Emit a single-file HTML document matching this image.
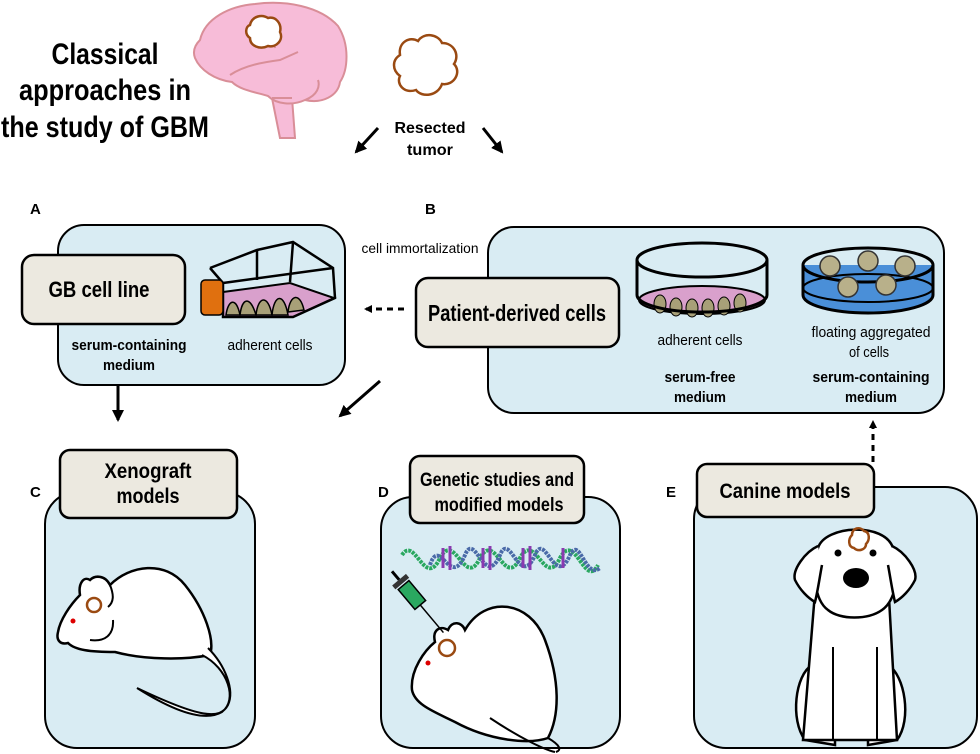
<!DOCTYPE html>
<html><head><meta charset="utf-8"><style>
html,body{margin:0;padding:0;background:#fff}
svg{display:block}
text{font-family:"Liberation Sans Narrow","Liberation Sans",Arial,sans-serif}
.b{font-weight:bold}
</style></head><body>
<svg width="980" height="754" viewBox="0 0 980 754" xmlns="http://www.w3.org/2000/svg">
<defs>
<marker id="ah" markerWidth="8" markerHeight="8" refX="6" refY="4" orient="auto" markerUnits="userSpaceOnUse">
<path d="M0,0 L8,4 L0,8 Z" fill="#000"/></marker>
<marker id="ah2" markerWidth="12" markerHeight="12" refX="10" refY="6" orient="auto" markerUnits="userSpaceOnUse">
<path d="M0,0 L12,6 L0,12 Z" fill="#000"/></marker>
</defs>

<!-- Title -->
<g font-size="30" fill="#000" text-anchor="middle">
<text x="105" y="64" class="b" textLength="107" lengthAdjust="spacingAndGlyphs">Classical</text>
<text x="105" y="100" class="b" textLength="172" lengthAdjust="spacingAndGlyphs">approaches in</text>
<text x="105" y="137" class="b" textLength="208" lengthAdjust="spacingAndGlyphs">the study of GBM</text>
</g>

<!-- Brain -->
<g stroke="#d98e98" stroke-width="2" fill="#f7bcd8">
<path d="M272,98 L280,138 L295,138 L292,98 Z"/>
<path d="M200,40 C205,18 230,6 255,4 C285,0 320,6 338,26 C350,45 348,70 340,82 C338,96 322,104 305,100 C292,106 276,104 268,96 C255,92 240,90 232,82 C215,80 200,70 195,58 C192,50 196,44 200,40 Z"/>
<path d="M230,75 C245,65 265,62 280,60 L298,52 M275,48 L272,28 M305,100 C318,95 320,86 318,80 M272,98 L292,98" fill="none"/>
</g>
<path d="M250,25 C252,16 262,14 268,18 C276,16 282,24 280,32 C284,40 276,48 268,46 C260,50 250,46 250,38 C244,34 246,26 250,25 Z" fill="#fff" stroke="#9a4a12" stroke-width="2.5"/>
<!-- resected tumor -->
<path d="M400,55 C398,42 410,36 418,41 C424,32 438,34 442,43 C454,43 460,55 454,64 C462,72 454,86 442,84 C438,96 422,98 416,90 C404,94 396,84 400,76 C392,70 392,60 400,55 Z" fill="#fff" stroke="#9a4a12" stroke-width="2.5"/>
<text x="430" y="133" font-size="16" class="b" text-anchor="middle" textLength="71" lengthAdjust="spacingAndGlyphs">Resected</text>
<text x="430" y="155" font-size="16" class="b" text-anchor="middle" textLength="46" lengthAdjust="spacingAndGlyphs">tumor</text>
<line x1="378" y1="128" x2="356" y2="152" stroke="#000" stroke-width="3" marker-end="url(#ah2)"/>
<line x1="483" y1="128" x2="502" y2="152" stroke="#000" stroke-width="3" marker-end="url(#ah2)"/>

<!-- A -->
<text x="30" y="214" font-size="15" class="b">A</text>
<rect x="58" y="225" width="287" height="160" rx="26" fill="#d9ecf3" stroke="#000" stroke-width="2"/>
<rect x="22" y="255" width="163" height="69" rx="12" fill="#ece9e0" stroke="#000" stroke-width="2.5"/>
<text x="99" y="297" font-size="22" class="b" text-anchor="middle" textLength="101" lengthAdjust="spacingAndGlyphs">GB cell line</text>
<text x="129" y="350" font-size="15" class="b" text-anchor="middle" textLength="115" lengthAdjust="spacingAndGlyphs">serum-containing</text>
<text x="129" y="370" font-size="15" class="b" text-anchor="middle" textLength="52" lengthAdjust="spacingAndGlyphs">medium</text>
<text x="270" y="350" font-size="15" text-anchor="middle" textLength="85" lengthAdjust="spacingAndGlyphs">adherent cells</text>
<!-- flask -->
<path d="M223,292 L290,283 L334,298 L293,317 L223,317 Z" fill="#d9a0cc" stroke="#000" stroke-width="2"/>
<g fill="#a8a078" stroke="#000" stroke-width="1.5">
<path d="M226,315 C228,300 236,296 240,315Z"/><path d="M240,315 C242,298 250,295 256,315Z"/><path d="M256,315 C258,296 268,294 272,315Z"/><path d="M272,315 C274,294 284,292 288,315Z"/><path d="M288,312 C290,294 300,292 304,310Z"/>
</g>
<g fill="none" stroke="#000" stroke-width="2.5">
<path d="M210,268 L257,250 L293,242 L333,268 L335,298 L293,317 L223,317 L223,283 L210,268"/>
<path d="M223,283 L333,268 M257,250 L257,280 M293,242 L290,282"/>
</g>
<rect x="201" y="280" width="22" height="35" rx="4" fill="#e0700f" stroke="#000" stroke-width="1.5"/>

<!-- dashed arrow -->
<line x1="404" y1="309" x2="366" y2="309" stroke="#000" stroke-width="3" stroke-dasharray="6,5" marker-end="url(#ah)"/>
<text x="420" y="253" font-size="14" text-anchor="middle" textLength="117" lengthAdjust="spacingAndGlyphs">cell immortalization</text>

<!-- B -->
<text x="425" y="214" font-size="15" class="b">B</text>
<rect x="488" y="227" width="456" height="186" rx="26" fill="#d9ecf3" stroke="#000" stroke-width="2"/>
<rect x="416" y="278" width="203" height="69" rx="12" fill="#ece9e0" stroke="#000" stroke-width="2.5"/>
<text x="517" y="321" font-size="23" class="b" text-anchor="middle" textLength="178" lengthAdjust="spacingAndGlyphs">Patient-derived cells</text>
<!-- dish 1 -->
<ellipse cx="702" cy="300" rx="63" ry="14" fill="#d9a0cc" stroke="#000" stroke-width="2"/>
<g fill="#a8a078" stroke="#000" stroke-width="1">
<ellipse cx="660" cy="304" rx="6" ry="9"/><ellipse cx="676" cy="307" rx="6" ry="9"/><ellipse cx="692" cy="308" rx="6" ry="9"/><ellipse cx="708" cy="308" rx="6" ry="9"/><ellipse cx="724" cy="306" rx="6" ry="9"/><ellipse cx="740" cy="303" rx="6" ry="9"/>
</g>
<path d="M637,260 L637,295 A65,17 0 0 0 767,295 L767,260" fill="none" stroke="#000" stroke-width="3"/>
<ellipse cx="702" cy="260" rx="65" ry="17" fill="none" stroke="#000" stroke-width="3"/>
<!-- dish 2 -->
<path d="M803,265 L803,295 A65,18 0 0 0 933,295 L933,265 Z" fill="#4a8fd8"/>
<ellipse cx="868" cy="288" rx="65" ry="14" fill="#4a8fd8" stroke="#000" stroke-width="2"/>
<path d="M803,265 L803,295 A65,18 0 0 0 933,295 L933,265" fill="none" stroke="#000" stroke-width="3"/>
<ellipse cx="868" cy="265" rx="65" ry="17" fill="none" stroke="#000" stroke-width="3"/>
<g fill="#b8b08a" stroke="#333" stroke-width="1.5">
<circle cx="830" cy="266" r="10"/><circle cx="868" cy="261" r="10"/><circle cx="905" cy="266" r="10"/><circle cx="848" cy="287" r="10"/><circle cx="886" cy="285" r="10"/>
</g>
<g font-size="15" text-anchor="middle">
<text x="700" y="345" textLength="85" lengthAdjust="spacingAndGlyphs">adherent cells</text>
<text x="700" y="382" class="b" textLength="71" lengthAdjust="spacingAndGlyphs">serum-free</text>
<text x="700" y="402" class="b" textLength="52" lengthAdjust="spacingAndGlyphs">medium</text>
<text x="871" y="337" textLength="119" lengthAdjust="spacingAndGlyphs">floating aggregated</text>
<text x="869" y="357" textLength="40" lengthAdjust="spacingAndGlyphs">of cells</text>
<text x="871" y="382" class="b" textLength="117" lengthAdjust="spacingAndGlyphs">serum-containing</text>
<text x="871" y="402" class="b" textLength="52" lengthAdjust="spacingAndGlyphs">medium</text>
</g>

<line x1="118" y1="386" x2="118" y2="420" stroke="#000" stroke-width="3" marker-end="url(#ah2)"/>
<line x1="380" y1="381" x2="340" y2="416" stroke="#000" stroke-width="3" marker-end="url(#ah2)"/>
<line x1="873" y1="462" x2="873" y2="422" stroke="#000" stroke-width="3" stroke-dasharray="6,5" marker-end="url(#ah)"/>

<!-- C -->
<text x="30" y="497" font-size="15" class="b">C</text>
<rect x="45" y="492" width="210" height="256" rx="32" fill="#d9ecf3" stroke="#000" stroke-width="2"/>
<rect x="60" y="450" width="177" height="68" rx="10" fill="#ece9e0" stroke="#000" stroke-width="2.5"/>
<text x="148" y="478" font-size="21" class="b" text-anchor="middle" textLength="87" lengthAdjust="spacingAndGlyphs">Xenograft</text>
<text x="148" y="503" font-size="21" class="b" text-anchor="middle" textLength="63" lengthAdjust="spacingAndGlyphs">models</text>
<!-- mouse C -->
<path d="M58,632 C60,620 70,605 80,595 C78,583 84,576 90,580 C95,575 105,575 110,585 C130,565 165,560 185,585 C205,610 215,640 210,655 C185,660 145,660 115,652 C90,652 75,650 68,643 C60,645 56,640 58,632 Z" fill="#fff" stroke="#000" stroke-width="2.5"/>
<path d="M208,648 C225,665 235,690 228,705 C220,720 200,718 137,688 C175,712 205,722 222,712 C238,700 228,668 202,655" fill="#fff" stroke="#000" stroke-width="2"/>
<path d="M110,585 C114,595 114,602 108,607 M113,620 C114,635 105,642 90,640" fill="none" stroke="#000" stroke-width="2"/>
<circle cx="94" cy="605" r="7" fill="none" stroke="#9a4a12" stroke-width="2.5"/>
<circle cx="73" cy="621" r="2.5" fill="#d00"/>

<!-- D -->
<text x="378" y="497" font-size="15" class="b">D</text>
<rect x="381" y="497" width="239" height="251" rx="32" fill="#d9ecf3" stroke="#000" stroke-width="2"/>
<rect x="410" y="456" width="174" height="67" rx="10" fill="#ece9e0" stroke="#000" stroke-width="2.5"/>
<text x="497" y="486" font-size="19" class="b" text-anchor="middle" textLength="154" lengthAdjust="spacingAndGlyphs">Genetic studies and</text>
<text x="499" y="511" font-size="19" class="b" text-anchor="middle" textLength="129" lengthAdjust="spacingAndGlyphs">modified models</text>
<!-- DNA -->
<path d="M402,555 C415,535 425,590 440,558 C455,530 465,590 480,558 C495,530 505,590 520,558 C535,530 545,590 560,558 C575,530 585,590 598,565" fill="none" stroke="#2aa860" stroke-width="4" stroke-dasharray="3,1"/>
<path d="M430,565 C440,535 450,590 465,555 C475,530 485,590 500,555 C510,530 520,590 535,555 C545,530 555,590 570,555 C580,535 585,580 600,568" fill="none" stroke="#4a6aa8" stroke-width="4" stroke-dasharray="3,1"/>
<g stroke="#8a3ab0" stroke-width="3">
<line x1="443" y1="548" x2="443" y2="568"/><line x1="450" y1="546" x2="450" y2="570"/><line x1="483" y1="548" x2="483" y2="568"/><line x1="490" y1="546" x2="490" y2="570"/><line x1="523" y1="548" x2="523" y2="568"/><line x1="530" y1="546" x2="530" y2="570"/><line x1="563" y1="548" x2="563" y2="568"/>
</g>
<!-- mouse D -->
<path d="M412,690 C410,670 425,650 435,642 C432,630 440,625 448,630 C452,620 462,622 465,630 C485,595 530,600 545,640 C560,680 560,715 548,738 C528,745 488,740 455,722 C435,712 415,705 412,690 Z" fill="#fff" stroke="#000" stroke-width="2.5"/>
<path d="M548,738 C560,745 562,750 556,752 M490,718 C520,738 545,750 555,752" fill="none" stroke="#000" stroke-width="2"/>
<g transform="rotate(-40 420 600)"><rect x="410" y="578" width="14" height="26" fill="#2aa860" stroke="#000" stroke-width="1.5"/><line x1="417" y1="604" x2="417" y2="640" stroke="#000" stroke-width="1.5"/><rect x="408" y="571" width="18" height="5" fill="#333"/><line x1="417" y1="560" x2="417" y2="571" stroke="#000" stroke-width="3"/></g>
<circle cx="447" cy="648" r="8" fill="none" stroke="#9a4a12" stroke-width="2.5"/>
<circle cx="428" cy="663" r="2.5" fill="#d00"/>

<!-- E -->
<text x="666" y="497" font-size="15" class="b">E</text>
<rect x="694" y="487" width="283" height="261" rx="32" fill="#d9ecf3" stroke="#000" stroke-width="2"/>
<rect x="697" y="464" width="177" height="53" rx="10" fill="#ece9e0" stroke="#000" stroke-width="2.5"/>
<text x="785" y="498" font-size="21" class="b" text-anchor="middle" textLength="131" lengthAdjust="spacingAndGlyphs">Canine models</text>
<!-- dog -->
<g fill="#fff" stroke="#000" stroke-width="2.5">
<path d="M812,665 C795,675 790,720 805,740 L835,745 L835,700 Z"/>
<path d="M888,665 C905,675 912,720 897,740 L868,745 L868,700 Z"/>
<path d="M816,580 L803,740 L897,740 L888,580 Z"/>
<path d="M818,548 C825,525 885,522 893,548 C900,575 896,600 882,610 C868,620 840,620 828,610 C814,600 812,570 818,548 Z"/>
<path d="M818,546 C805,552 792,570 795,580 C800,590 808,598 815,602 C818,590 820,575 822,565" />
<path d="M892,546 C905,552 918,570 915,580 C910,590 902,598 895,602 C892,590 890,575 888,565" />
<path d="M833,647 L833,740 M877,647 L877,740" fill="none" stroke-width="2"/>
</g>
<ellipse cx="856" cy="578" rx="13" ry="10" fill="#000"/>
<circle cx="838" cy="553" r="3.5" fill="#000"/><circle cx="873" cy="553" r="3.5" fill="#000"/>
<path d="M852,535 C852,528 860,526 864,531 C870,532 870,540 866,544 C866,550 858,552 854,548 C848,547 848,539 852,535 Z" fill="none" stroke="#9a4a12" stroke-width="2.5"/>
</svg>
</body></html>
